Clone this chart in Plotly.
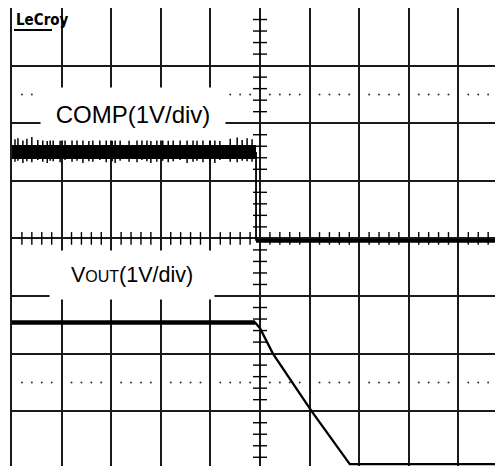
import plotly.graph_objects as go

# ---- data (oscilloscope divisions) ----
comp_level = 1.5
comp_step_x = -0.08
comp_after = -0.04
comp_end_x = 4.9

spike_x = [-4.94, -4.88, -4.78, -4.70, -4.60, -4.48, -4.38, -4.29, -4.23, -4.17,
           -4.03, -3.93, -3.79, -3.69, -3.57, -3.45, -3.37, -3.23, -3.10, -2.98,
           -2.92, -2.82, -2.64, -2.48, -2.38, -2.28, -2.20, -2.08, -1.96, -1.85,
           -1.75, -1.61, -1.47, -1.35, -1.27, -1.15, -1.01, -0.91, -0.81, -0.60,
           -0.46, -0.36, -0.26, -0.16]
spike_top = [1.72, 1.74, 1.70, 1.73, 1.76, 1.71, 1.74, 1.69, 1.72, 1.75,
             1.70, 1.73, 1.71, 1.76, 1.72, 1.69, 1.74, 1.71, 1.73, 1.70,
             1.75, 1.72, 1.70, 1.74, 1.71, 1.73, 1.69, 1.72, 1.76, 1.70,
             1.74, 1.71, 1.73, 1.75, 1.70, 1.72, 1.74, 1.71, 1.69, 1.73,
             1.75, 1.71, 1.74, 1.72]
spike_bot = [1.33, 1.35, 1.31, 1.34, 1.32, 1.36, 1.33, 1.31, 1.35, 1.34,
             1.32, 1.36, 1.33, 1.35, 1.31, 1.34, 1.33, 1.36, 1.32, 1.34,
             1.31, 1.35, 1.33, 1.32, 1.36, 1.34, 1.31, 1.33, 1.35, 1.32,
             1.34, 1.36, 1.31, 1.33, 1.35, 1.32, 1.34, 1.31, 1.36, 1.33,
             1.32, 1.35, 1.34, 1.33]

vout_x = [-5.0, -0.1, 0.0, 0.26, 1.04, 1.81, 4.9]
vout_y = [-1.46, -1.46, -1.56, -2.0, -3.0, -3.92, -3.92]

trigger_level = 0.94
dotted_levels = [2.5, -2.5]

PX = 49.6   # px per horizontal division
PY = 57.6   # px per vertical division
X0, X1 = -5.0, -5.0 + 491 / PX
Y0, Y1 = 4.0 - 458 / PY, 4.0

fig = go.Figure()

# dotted lines
minor = [i / 5 for i in range(-25, 25) if i % 5 != 0]
for lv in dotted_levels:
    fig.add_trace(go.Scatter(x=minor, y=[lv] * len(minor), mode="markers",
                             marker=dict(size=2, color="#333"), hoverinfo="skip"))

# centre axis tick marks
vt = [i / 5 for i in range(-20, 21) if i % 5 != 0]
fig.add_trace(go.Scatter(x=[0] * len(vt), y=vt, mode="markers",
                         marker=dict(symbol="line-ew", size=10,
                                     line=dict(width=1.4, color="black")),
                         hoverinfo="skip"))
ht = [i / 5 for i in range(-25, 25) if i % 5 != 0]
fig.add_trace(go.Scatter(x=ht, y=[0] * len(ht), mode="markers",
                         marker=dict(symbol="line-ns", size=9,
                                     line=dict(width=1.4, color="black")),
                         hoverinfo="skip"))

# trigger marker at the left edge
fig.add_trace(go.Scatter(x=[X0 - 2.5 / PX], y=[trigger_level], mode="markers",
                         cliponaxis=False,
                         marker=dict(symbol="line-ew", size=5,
                                     line=dict(width=1.5, color="black")),
                         hoverinfo="skip"))

# COMP trace
fig.add_trace(go.Scatter(x=[X0, comp_step_x], y=[comp_level, comp_level], mode="lines",
                         line=dict(color="black", width=14), hoverinfo="skip"))
sx, sy = [], []
for x, t, b in zip(spike_x, spike_top, spike_bot):
    sx += [x, x, None]
    sy += [b, t, None]
fig.add_trace(go.Scatter(x=sx, y=sy, mode="lines",
                         line=dict(color="black", width=1.5), hoverinfo="skip"))
fig.add_trace(go.Scatter(x=[comp_step_x, comp_step_x], y=[comp_level, comp_after],
                         mode="lines", line=dict(color="black", width=1.8),
                         hoverinfo="skip"))
fig.add_trace(go.Scatter(x=[comp_step_x, comp_end_x], y=[comp_after, comp_after],
                         mode="lines", line=dict(color="black", width=4),
                         hoverinfo="skip"))

# VOUT trace
fig.add_trace(go.Scatter(x=vout_x, y=vout_y, mode="lines",
                         line=dict(color="black", width=2.3), hoverinfo="skip"))
fig.add_trace(go.Scatter(x=vout_x[:2], y=vout_y[:2], mode="lines",
                         line=dict(color="black", width=4.5), hoverinfo="skip"))

grid = dict(showgrid=True, gridcolor="#1a1a1a", gridwidth=1.5,
            zeroline=True, zerolinecolor="#1a1a1a", zerolinewidth=1.5,
            showticklabels=False, ticks="", dtick=1, tick0=0,
            showline=True, linecolor="#1a1a1a", linewidth=2)

# page body has an 8px margin: figure is 495x458 so it ends at the window edge
fig.update_layout(
    width=495, height=458,
    margin=dict(l=4, r=0, t=0, b=0, autoexpand=False),
    paper_bgcolor="white", plot_bgcolor="white",
    showlegend=False,
    xaxis=dict(range=[X0, X1], side="top", **grid),
    yaxis=dict(range=[Y0, Y1], side="left", **grid),
    font=dict(family="Liberation Sans, Arial, sans-serif", color="black"),
)

fig.add_annotation(x=-2.56, y=2.16, xref="x", yref="y", text="COMP(1V/div)",
                   showarrow=False, font=dict(size=24), bgcolor="white",
                   width=182, height=50)
fig.add_annotation(x=-2.58, y=-0.63, xref="x", yref="y",
                   text="V<span style='font-size:16px'>OUT</span>(1V/div)",
                   showarrow=False, font=dict(size=21.5), bgcolor="white",
                   width=162, height=46)

# LeCroy logo
fig.add_annotation(x=(14 - 12) / PX - 5, y=4 - (8 - 7) / PY, xref="x", yref="y",
                   xanchor="left", yanchor="top", showarrow=False,
                   text="<b>LeCroy</b>",
                   font=dict(size=15, family="Liberation Sans Narrow, DejaVu Sans Condensed, sans-serif"))
fig.add_shape(type="line", xref="x", yref="y",
              x0=(14 - 12) / PX - 5, x1=(52 - 12) / PX - 5,
              y0=4 - (29 - 7) / PY, y1=4 - (29 - 7) / PY,
              line=dict(color="black", width=2))

fig.write_html("out.html")
